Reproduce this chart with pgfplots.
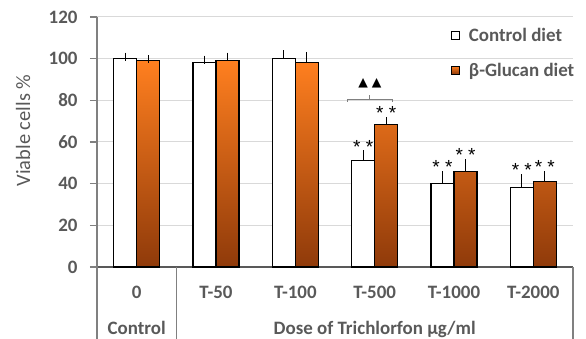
\documentclass[border=0pt]{standalone}
\usepackage{pgfplots}
\pgfplotsset{compat=1.18}
\usepackage{pgfplotstable}
\usepackage{fontspec}
\setmainfont{Carlito}
\newfontfamily\dejavu{DejaVu Sans}
\newfontfamily\arial{Liberation Sans}
\definecolor{txtgray}{HTML}{595959}
\definecolor{gridgray}{HTML}{D9D9D9}
\definecolor{axgray}{HTML}{808080}
\definecolor{orTop}{HTML}{FF7F1F}
\definecolor{orBot}{HTML}{8F3A0A}

\pgfplotstableread{
x ctrl ctrlerr glu gluerr
0 100 1.0 99 0.8
1 98 1.5 99 2.0
2 100 2.0 98 3.3
3 51 3.0 68.5 1.5
4 40 4.0 45.7 4.0
5 38.2 4.3 40.9 3.2
}\datatable

\tikzset{star/.style={font=\arial\fontsize{19}{19}\selectfont, black, anchor=base, inner sep=0pt, yshift=1.5bp}}

\begin{document}
\begin{tikzpicture}
\path[use as bounding box] (-97bp,-72bp) rectangle (489bp,267bp);
\begin{axis}[
  at={(0,0)}, anchor=south west,
  scale only axis, width=476bp, height=250bp,
  xmin=-0.5, xmax=5.5, ymin=0, ymax=120,
  ytick={0,20,...,120},
  xtick={0,...,5},
  xticklabels={0,T-50,T-100,T-500,T-1000,T-2000},
  axis x line*=bottom, axis y line*=left,
  x axis line style={-, color=txtgray, line width=1.8bp},
  y axis line style={-, color=axgray, line width=1.5bp},
  ymajorgrids, grid style={gridgray, line width=1bp},
  tick align=outside, major tick length=7bp,
  xtick style={draw=none},
  ytick style={axgray, line width=1.2bp},
  /pgf/number format/assume math mode=true,
  yticklabel={\bfseries\pgfmathprintnumber{\tick}},
  yticklabel style={font=\fontsize{19}{22}\selectfont\bfseries, color=txtgray, xshift=-9bp},
  xticklabel style={font=\fontsize{19}{22}\selectfont\bfseries, color=txtgray, anchor=base, yshift=-24bp},
  ylabel={Viable cells \%},
  every axis y label/.style={at={(rel axis cs:0,0.546)}, xshift=-74bp, rotate=90, anchor=center,
     font=\fontsize{20.5}{22}\selectfont, color=txtgray},
  clip=false,
  legend style={at={(0.744,0.964)}, anchor=north west, draw=none, fill=none,
     font=\fontsize{19}{22}\selectfont\bfseries, text=txtgray,
     inner sep=0pt, outer sep=0pt, row sep=16bp, column sep=7bp,
     cells={anchor=west}},
  legend image code/.code={\draw[#1, line width=0.8bp] (0bp,-4bp) rectangle (8bp,4bp);},
]
\addplot[ybar, bar width=0.29, bar shift=0, draw=black, line width=1.3bp, fill=white,
  error bars/.cd, y dir=plus, y explicit, error mark=-,
  error bar style={black, line width=0.9bp},
  error mark options={black, line width=0.9bp, mark size=4bp}]
  table[x expr=\thisrow{x}-0.145, y=ctrl, y error=ctrlerr] {\datatable};
\addlegendentry{Control diet}
\addplot[ybar, bar width=0.29, bar shift=0, draw=black, line width=1.3bp, top color=orTop, bottom color=orBot,
  error bars/.cd, y dir=plus, y explicit, error mark=-,
  error bar style={black, line width=0.9bp},
  error mark options={black, line width=0.9bp, mark size=4bp}]
  table[x expr=\thisrow{x}+0.145, y=glu, y error=gluerr] {\datatable};
\addlegendentry{β-Glucan diet}

% significance asterisks above error bars
\node[star] at (axis cs:2.855,54) {* *};
\node[star] at (axis cs:3.145,70) {* *};
\node[star] at (axis cs:3.855,44) {* *};
\node[star] at (axis cs:4.145,49.7) {* *};
\node[star] at (axis cs:4.855,42.5) {* *};
\node[star] at (axis cs:5.145,44.1) {* *};

% significance bracket
\draw[axgray, line width=1bp] (axis cs:2.655,79.2) -- (axis cs:2.655,80.4) -- (axis cs:3.222,80.4) -- (axis cs:3.222,79.2);
\draw[axgray, line width=1bp] (axis cs:2.94,80.4) -- (axis cs:2.94,82.4);
\node[font=\dejavu\fontsize{12.5}{12.5}\selectfont, black, inner sep=0pt] at (axis cs:2.94,88.2) {▲\hspace{4bp}▲};

% category separators
\draw[axgray, line width=1.5bp] (axis cs:-0.5,0) -- ([yshift=-72bp]axis cs:-0.5,0);
\draw[axgray, line width=1.5bp] (axis cs:0.5,0) -- ([yshift=-72bp]axis cs:0.5,0);
\draw[axgray, line width=1.5bp] (axis cs:5.5,0) -- ([yshift=-72bp]axis cs:5.5,0);
\node[font=\fontsize{19}{22}\selectfont\bfseries, text=txtgray, anchor=base, yshift=-67bp] at (axis cs:0,0) {Control};
\node[font=\fontsize{19}{22}\selectfont\bfseries, text=txtgray, anchor=base, yshift=-67bp] at (axis cs:3,0) {Dose of Trichlorfon µg/ml};
\end{axis}
\end{tikzpicture}
\end{document}
